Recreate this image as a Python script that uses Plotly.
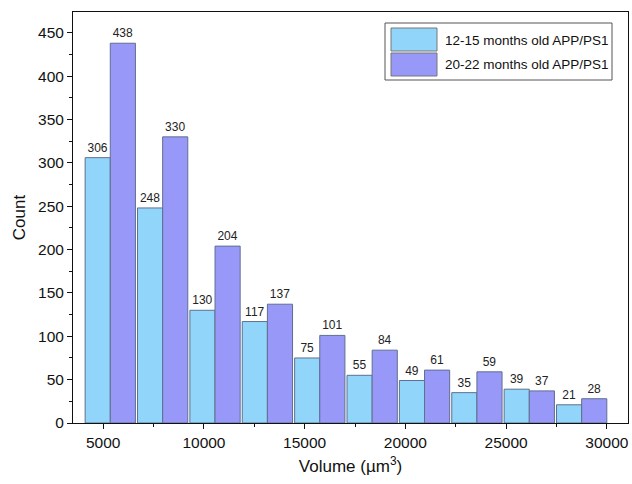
import plotly.graph_objects as go

# ---- data ----
bin_centers = [5350, 7950, 10550, 13150, 15750, 18350, 20950, 23550, 26150, 28750]
young_counts = [306, 248, 130, 117, 75, 55, 49, 35, 39, 21]
old_counts = [438, 330, 204, 137, 101, 84, 61, 59, 37, 28]
series_names = ["12-15 months old APP/PS1", "20-22 months old APP/PS1"]
x_ticks = [5000, 10000, 15000, 20000, 25000, 30000]
y_ticks = [0, 50, 100, 150, 200, 250, 300, 350, 400, 450]

# ---- style ----
C_LIGHT = "#92D5FA"
C_PURP = "#9898F8"
EDGE = "#5F6F8F"
FONT = "Arial, Liberation Sans, sans-serif"

W, H = 632, 484
L, R, T, B = 73, 628, 12, 423  # plot area in pixels


def px_to_paper(px, py):
    return (px - L) / (R - L), (B - py) / (B - T)


fig = go.Figure()
for name, vals, col in [(series_names[0], young_counts, C_LIGHT),
                        (series_names[1], old_counts, C_PURP)]:
    fig.add_trace(go.Bar(
        x=bin_centers, y=vals, name=name,
        marker=dict(color=col, line=dict(color=EDGE, width=1)),
        text=[str(v) for v in vals], textposition="outside",
        textfont=dict(family=FONT, size=12, color="#222"),
        cliponaxis=False, showlegend=False, hoverinfo="skip",
    ))

# custom legend (box + swatches + labels)
shapes = []
x0, y0 = px_to_paper(385, 23)
x1, y1 = px_to_paper(612, 80)
shapes.append(dict(type="rect", xref="paper", yref="paper", x0=x0, x1=x1, y0=y1, y1=y0,
                   line=dict(color="#555", width=1), fillcolor="white"))
annotations = []
for i, (name, col) in enumerate([(series_names[0], C_LIGHT), (series_names[1], C_PURP)]):
    top = 28 + i * 25
    sx0, sy0 = px_to_paper(391, top)
    sx1, sy1 = px_to_paper(437, top + 23)
    shapes.append(dict(type="rect", xref="paper", yref="paper", x0=sx0, x1=sx1, y0=sy1, y1=sy0,
                       line=dict(color="#777", width=1), fillcolor=col))
    tx, ty = px_to_paper(443, top + 12)
    annotations.append(dict(xref="paper", yref="paper", x=tx, y=ty, text=name,
                            showarrow=False, xanchor="left", yanchor="middle",
                            font=dict(family=FONT, size=13.5, color="#111")))

fig.update_layout(
    width=W, height=H,
    margin=dict(l=L, r=W - R, t=T, b=H - B, autoexpand=False),
    paper_bgcolor="white", plot_bgcolor="white",
    barmode="group", bargap=0.04, bargroupgap=0,
    font=dict(family=FONT, color="#111"),
    shapes=shapes, annotations=annotations,
)
fig.update_xaxes(
    range=[3500, 31050], tickvals=x_ticks, ticktext=[str(v) for v in x_ticks],
    ticks="outside", ticklen=5, tickwidth=1, tickcolor="#111",
    minor=dict(ticks="outside", ticklen=3, tickcolor="#111", dtick=2500, tick0=0, showgrid=False),
    showline=True, linecolor="#111", linewidth=1, mirror=True,
    showgrid=False, zeroline=False, automargin=False,
    tickfont=dict(size=15.5, family=FONT),
    title=dict(text="Volume (µm<sup>3</sup>)", font=dict(size=17, family=FONT), standoff=10),
)
fig.update_yaxes(
    range=[0, 474], tickvals=y_ticks,
    ticks="outside", ticklen=5, tickwidth=1, tickcolor="#111",
    minor=dict(ticks="outside", ticklen=3, tickcolor="#111", dtick=25, tick0=0, showgrid=False),
    showline=True, linecolor="#111", linewidth=1, mirror=True,
    showgrid=False, zeroline=False, automargin=False,
    tickfont=dict(size=15.5, family=FONT),
    title=dict(text="Count", font=dict(size=17, family=FONT), standoff=8),
)

fig.write_html("out.html", config={"displayModeBar": False},
               post_script="document.body.style.margin='0';")
